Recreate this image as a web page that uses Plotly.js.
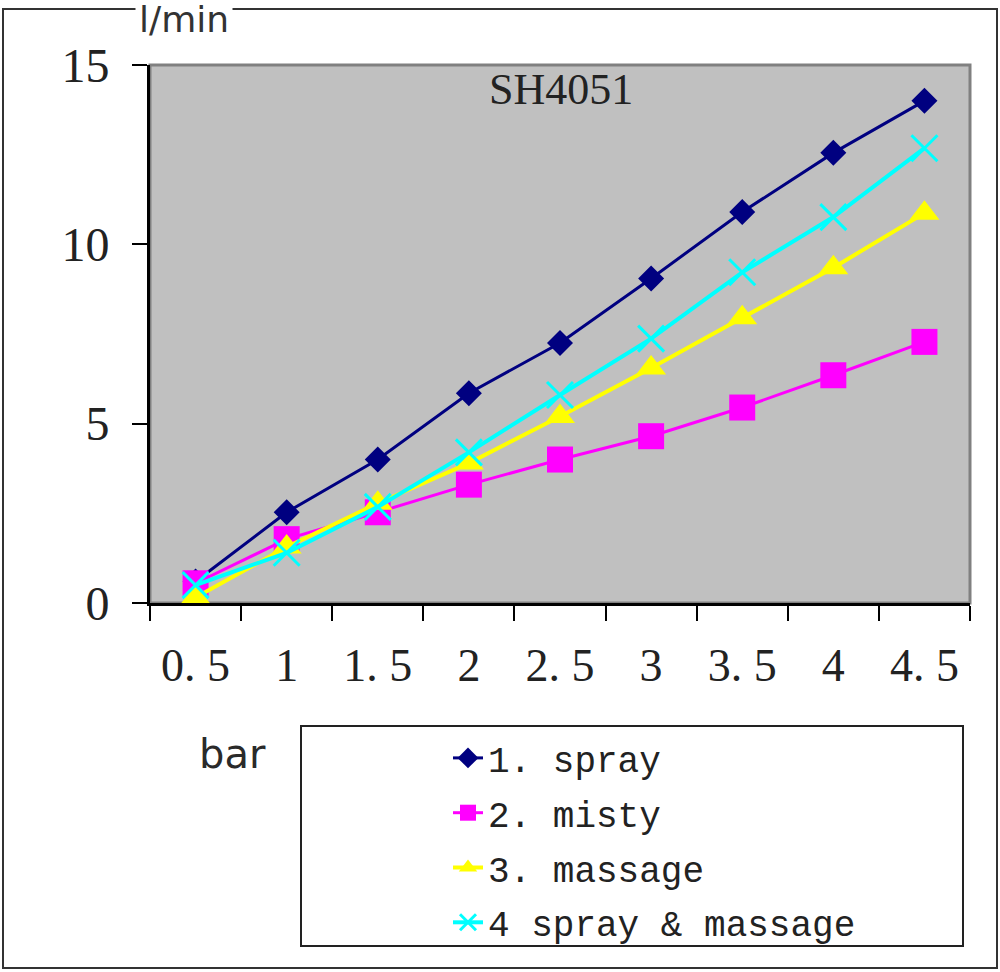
<!DOCTYPE html>
<html>
<head>
<meta charset="utf-8">
<script src="https://cdn.plot.ly/plotly-3.0.1.min.js"></script>
<style>
  html, body { margin: 0; padding: 0; background: #ffffff; }
  #chart { width: 1000px; height: 972px; }
</style>
</head>
<body>
<div id="chart"></div>
<script>
// ---- data ----
const pressures = ["0.5", "1", "1.5", "2", "2.5", "3", "3.5", "4", "4.5"];
const pressureLabels = ["0. 5", "1", "1. 5", "2", "2. 5", "3", "3. 5", "4", "4. 5"];
const sprayFlow = [0.6, 2.53, 4.0, 5.85, 7.25, 9.05, 10.9, 12.55, 14.0];
const mistyFlow = [0.55, 1.78, 2.53, 3.3, 4.0, 4.65, 5.45, 6.35, 7.28];
const massageFlow = [0.15, 1.56, 2.78, 3.9, 5.2, 6.55, 7.95, 9.35, 10.87];
const sprayMassageFlow = [0.5, 1.4, 2.68, 4.2, 5.8, 7.37, 9.22, 10.76, 12.68];
const seriesNames = ["1. spray", "2. misty", "3. massage", "4 spray & massage"];
const yTicks = [0, 5, 10, 15];

// ---- plot geometry (pixels) ----
const W = 1000, H = 972;
const L = 150, R = 30, T = 65, B = 369;
const pw = W - L - R, ph = H - T - B;
const px = v => (v - L) / pw;          // pixel x -> paper x
const py = v => (H - B - v) / ph;      // pixel y -> paper y

function series(name, y, color, symbol, msize, lw, mline) {
  return {
    type: 'scatter', mode: 'lines+markers',
    x: pressures, y: y, name: name, legendgroup: name,
    line: { color: color, width: lw },
    marker: { symbol: symbol, size: msize, color: color,
              line: mline ? { color: color, width: mline } : { width: 0 } },
    cliponaxis: false
  };
}

const traces = [
  series(seriesNames[0], sprayFlow, '#000080', 'diamond', 20, 3, 0),
  series(seriesNames[1], mistyFlow, '#ff00ff', 'square', 26, 3, 0),
  series(seriesNames[2], massageFlow, '#ffff00', 'triangle-up', 26, 4, 0),
  series(seriesNames[3], sprayMassageFlow, '#00ffff', 'x-thin', 26, 4, 3)
];

const layout = {
  width: W, height: H,
  margin: { l: L, r: R, t: T, b: B, pad: 0 },
  paper_bgcolor: '#ffffff',
  plot_bgcolor: '#c0c0c0',
  showlegend: true,
  hovermode: false,
  font: { family: 'Liberation Serif, serif', color: '#222222' },
  xaxis: {
    type: 'category',
    range: [-0.5, 8.5],
    tickmode: 'array', tickvals: pressures, ticktext: pressureLabels,
    tickson: 'boundaries',
    ticks: 'outside', ticklen: 15, tickwidth: 2, tickcolor: '#000000',
    ticklabelstandoff: 20,
    showline: true, linecolor: '#000000', linewidth: 3,
    showgrid: false, zeroline: false,
    tickfont: { family: 'Liberation Serif, serif', size: 46, color: '#222222' },
    fixedrange: true
  },
  yaxis: {
    range: [0, 15],
    tickmode: 'array', tickvals: yTicks,
    ticks: 'outside', ticklen: 15, tickwidth: 2, tickcolor: '#000000',
    ticklabelstandoff: 13,
    showline: true, linecolor: '#000000', linewidth: 3,
    showgrid: false, zeroline: false,
    tickfont: { family: 'Liberation Serif, serif', size: 48, color: '#222222' },
    fixedrange: true
  },
  legend: {
    x: px(448), y: py(728), xanchor: 'left', yanchor: 'top',
    bgcolor: 'rgba(0,0,0,0)', borderwidth: 0,
    tracegroupgap: 5, itemsizing: 'trace',
    font: { family: 'Liberation Mono, monospace', size: 36, color: '#222222' }
  },
  shapes: [
    // outer frame
    { type: 'rect', xref: 'paper', yref: 'paper', layer: 'below',
      x0: px(3), x1: px(997), y0: py(968), y1: py(9),
      line: { color: '#333333', width: 2 }, fillcolor: 'rgba(0,0,0,0)' },
    // plot-area gray border (top & right visible)
    { type: 'rect', xref: 'paper', yref: 'paper', layer: 'below',
      x0: 0, x1: 1, y0: 0, y1: 1,
      line: { color: '#808080', width: 3 }, fillcolor: 'rgba(0,0,0,0)' },
    // legend box
    { type: 'rect', xref: 'paper', yref: 'paper', layer: 'below',
      x0: px(301), x1: px(963), y0: py(946), y1: py(726),
      line: { color: '#222222', width: 2 }, fillcolor: '#ffffff' }
  ],
  annotations: [
    { text: 'SH4051', xref: 'paper', yref: 'paper', x: px(561), y: py(90),
      xanchor: 'center', yanchor: 'middle', showarrow: false,
      font: { family: 'Liberation Serif, serif', size: 44, color: '#222222' } },
    { text: 'l/min', xref: 'paper', yref: 'paper', x: px(184), y: py(19),
      xanchor: 'center', yanchor: 'middle', showarrow: false,
      bgcolor: '#ffffff', borderpad: 3,
      font: { family: 'DejaVu Sans, sans-serif', size: 36, color: '#333333' } },
    { text: 'bar', xref: 'paper', yref: 'paper', x: px(232), y: py(754),
      xanchor: 'center', yanchor: 'middle', showarrow: false,
      font: { family: 'DejaVu Sans, sans-serif', size: 40, color: '#2a2a2a' } }
  ]
};

Plotly.newPlot('chart', traces, layout, { staticPlot: true, displayModeBar: false });
</script>
</body>
</html>
